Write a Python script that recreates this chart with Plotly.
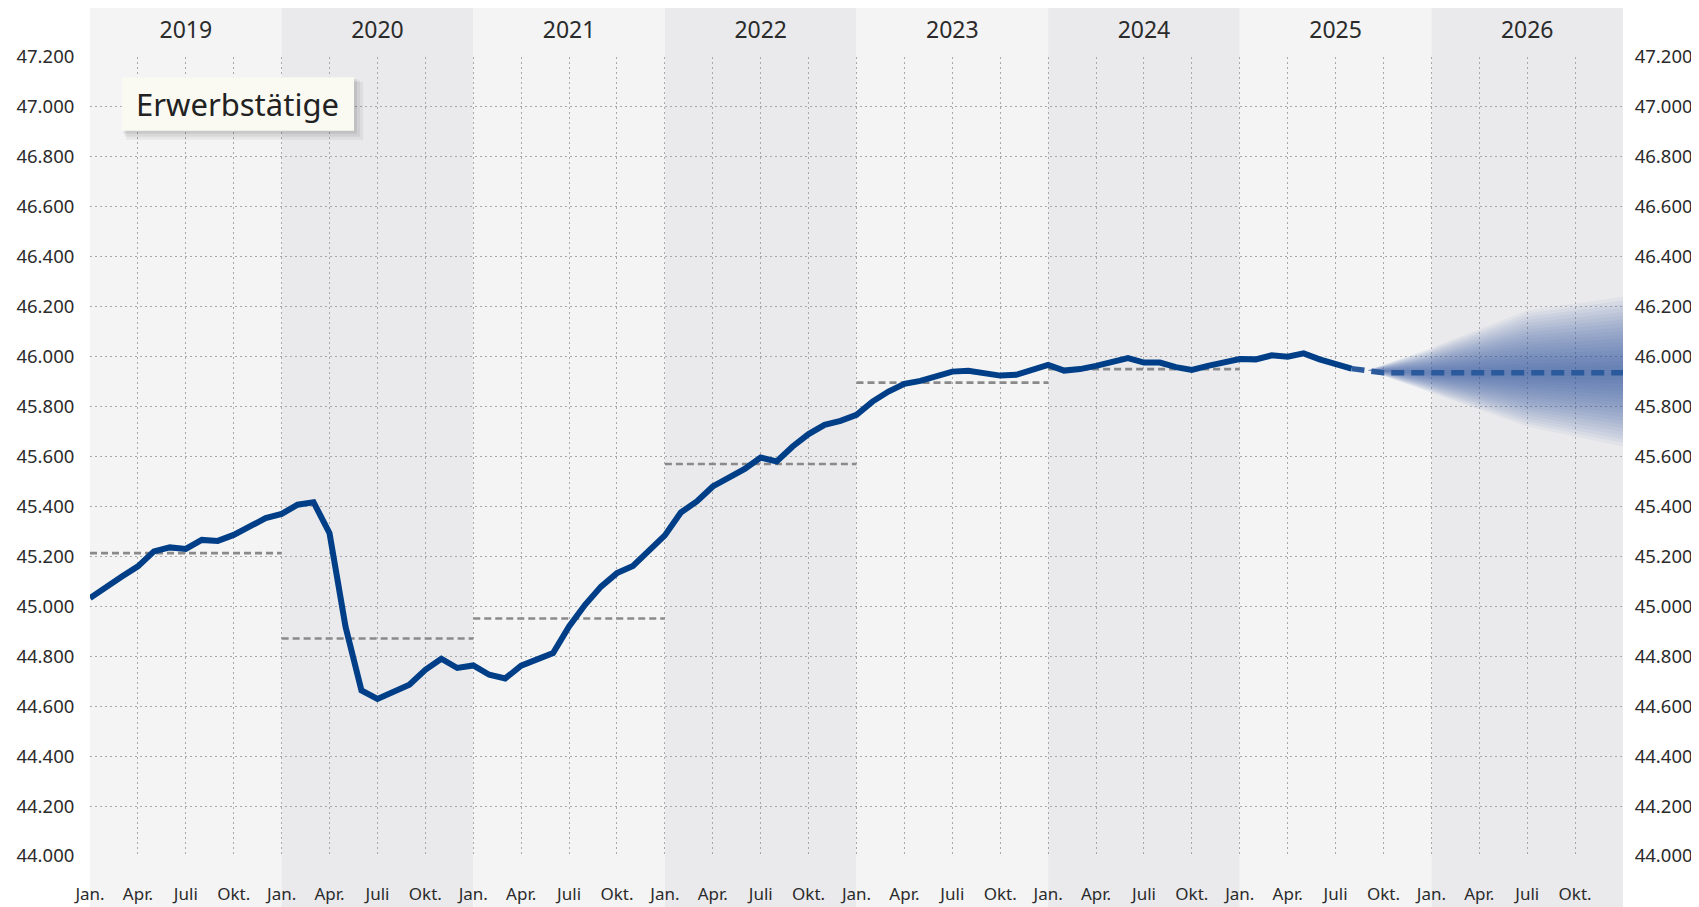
import plotly.graph_objects as go

# ---------------- data ----------------
years = [2019, 2020, 2021, 2022, 2023, 2024, 2025, 2026]
month_labels = ["Jan.", "Apr.", "Juli", "Okt."]

# Erwerbstätige (in Tausend), monthly from Jan. 2019 to Aug. 2025
employment = [
    45033, 45079, 45119, 45160, 45220, 45236, 45230, 45266, 45262, 45286, 45320, 45353,   # 2019
    45370, 45407, 45417, 45293, 44919, 44663, 44629, 44655, 44686, 44746, 44790, 44753,   # 2020
    44763, 44726, 44711, 44762, 44786, 44813, 44919, 45006, 45079, 45133, 45162, 45226,   # 2021
    45284, 45376, 45420, 45480, 45513, 45550, 45596, 45580, 45640, 45690, 45727, 45743,   # 2022
    45767, 45820, 45860, 45891, 45903, 45920, 45940, 45943, 45931, 45924, 45927, 45950,   # 2023
    45967, 45944, 45950, 45963, 45976, 45994, 45976, 45976, 45958, 45947, 45963, 45978,   # 2024
    45990, 45989, 46005, 46000, 46013, 45989, 45968, 45952,                               # 2025
]
# annual averages (dashed grey)
annual_avg_years = [2019, 2020, 2021, 2022, 2023, 2024]
annual_avg = [45213, 44871, 44951, 45570, 45896, 45950]

# forecast (month index from Jan. 2019)
forecast_months = [79, 81, 96]
forecast_values = [45952, 45935, 45935]

# forecast uncertainty fan
fan_months = [80, 84, 90, 96]
fan_center = [45945, 45935, 45935, 45935]
fan_upper = [45945, 46035, 46185, 46240]
fan_lower = [45945, 45855, 45720, 45640]

# ---------------- figure ----------------
FONT = "Noto Sans"
TXT = "#2b2b2b"
LINE_BLUE = "#003f87"
FC_BLUE = "#2a5a9c"

n_months = 12 * len(years)
x_hist = list(range(len(employment)))

fig = go.Figure()

# fan: nested translucent bands -> gradient look
N = 20
for k in range(N, 0, -1):
    f = k / N
    up = [c + f * (u - c) for c, u in zip(fan_center, fan_upper)]
    lo = [c + f * (l - c) for c, l in zip(fan_center, fan_lower)]
    fig.add_trace(go.Scatter(
        x=fan_months + fan_months[::-1], y=up + lo[::-1],
        fill="toself", mode="lines", line=dict(width=0),
        fillcolor="rgba(35,85,150,0.05)", hoverinfo="skip", showlegend=False))

# annual averages
for yr, v in zip(annual_avg_years, annual_avg):
    i = years.index(yr)
    fig.add_trace(go.Scatter(
        x=[12 * i, 12 * (i + 1)], y=[v, v], mode="lines",
        line=dict(color="#8a8a8a", width=2.6, dash="7px,4px"),
        hoverinfo="skip", showlegend=False))

# main line
fig.add_trace(go.Scatter(
    x=x_hist, y=employment, mode="lines",
    line=dict(color=LINE_BLUE, width=6), showlegend=False))

# forecast
fig.add_trace(go.Scatter(
    x=forecast_months, y=forecast_values, mode="lines",
    line=dict(color=FC_BLUE, width=5.5, dash="13px,7px"), showlegend=False))

# invisible trace to activate top/right axes
fig.add_trace(go.Scatter(x=[0], y=[44000], xaxis="x2", yaxis="y2",
                         mode="markers", marker=dict(opacity=0),
                         hoverinfo="skip", showlegend=False))

# year bands
shapes = []
for i, yr in enumerate(years):
    shapes.append(dict(
        type="rect", xref="x", yref="paper", x0=12 * i, x1=12 * (i + 1),
        y0=-0.07, y1=1.07, layer="below", line=dict(width=0),
        fillcolor="#f4f4f4" if i % 2 == 0 else "#eaeaed"))

# label box with soft shadow
bx0, bx1, by0, by1 = 0.0207, 0.1722, 0.9078, 0.9746
for d, a in [(0.006, 0.05), (0.004, 0.06), (0.002, 0.07)]:
    shapes.append(dict(type="rect", xref="paper", yref="paper",
                       x0=bx0 + d * 0.5, x1=bx1 + d, y0=by0 - d * 1.9, y1=by1 - d,
                       line=dict(width=0), fillcolor=f"rgba(0,0,0,{a})", layer="above"))
shapes.append(dict(type="rect", xref="paper", yref="paper",
                   x0=bx0, x1=bx1, y0=by0, y1=by1,
                   line=dict(width=0), fillcolor="#fafaf2", layer="above"))

tickvals_x = list(range(0, n_months + 1, 3))
ticktext_x = [month_labels[(m // 3) % 4] if m < n_months else "" for m in tickvals_x]

grid = dict(showgrid=True, gridcolor="#a8a8a8", gridwidth=1.2, griddash="2px,3px",
            zeroline=False, showline=False)

yticks = list(range(44000, 47201, 200))

fig.update_layout(
    width=1691, height=899,
    margin=dict(l=82, r=76, t=49, b=51),
    paper_bgcolor="white", plot_bgcolor="rgba(0,0,0,0)",
    separators=",.",
    font=dict(family=FONT, color=TXT),
    showlegend=False, hovermode=False,
    shapes=shapes,
    xaxis=dict(range=[0, n_months], tickvals=tickvals_x, ticktext=ticktext_x,
               ticks="outside", ticklen=23, tickcolor="rgba(0,0,0,0)", automargin=False,
               tickfont=dict(size=17, family=FONT, color=TXT), **grid),
    xaxis2=dict(range=[0, n_months], overlaying="x", side="top",
                tickvals=[12 * i + 6 for i in range(len(years))],
                ticktext=[str(y) for y in years], automargin=False,
                ticks="outside", ticklen=9, tickcolor="rgba(0,0,0,0)",
                tickfont=dict(size=23, family=FONT, color=TXT),
                showgrid=False, zeroline=False, showline=False),
    yaxis=dict(range=[44000, 47200], tickvals=yticks, tickformat=",d",
               ticks="outside", ticklen=11, tickcolor="rgba(0,0,0,0)", automargin=False,
               tickfont=dict(size=18.5, family=FONT, color=TXT), **grid),
    yaxis2=dict(range=[44000, 47200], overlaying="y", side="right",
                tickvals=yticks, tickformat=",d", automargin=False,
                ticks="outside", ticklen=7, tickcolor="rgba(0,0,0,0)",
                tickfont=dict(size=18.5, family=FONT, color=TXT),
                showgrid=False, zeroline=False, showline=False),
    annotations=[dict(text="Erwerbstätige", xref="paper", yref="paper",
                      x=(bx0 + bx1) / 2, y=(by0 + by1) / 2, xanchor="center",
                      yanchor="middle", showarrow=False,
                      font=dict(size=31, family=FONT, color="#222222"))],
)

fig.write_html("out.html")
